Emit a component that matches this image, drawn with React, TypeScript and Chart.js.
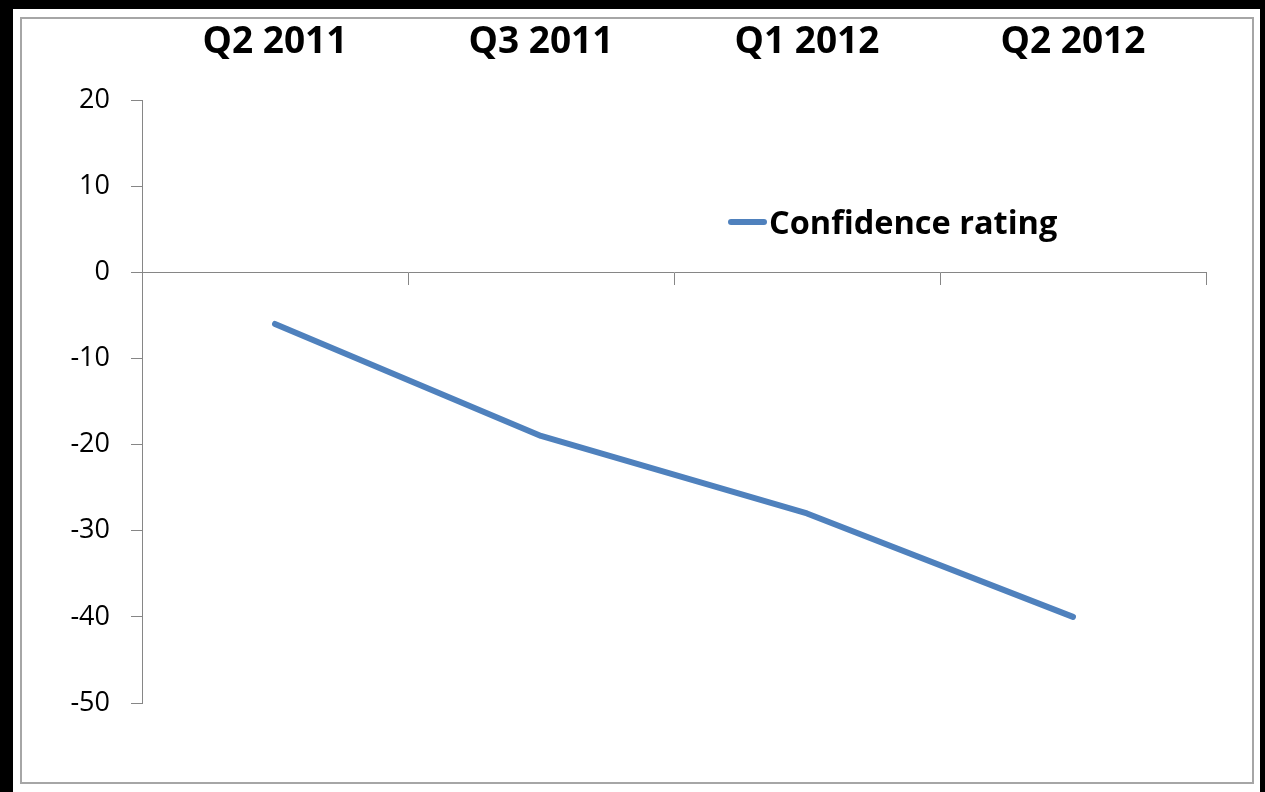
import React, { useEffect, useRef } from "react";
import { Chart, registerables } from "chart.js";

Chart.register(...registerables);

const categories = ["Q2 2011", "Q3 2011", "Q1 2012", "Q2 2012"];
const confidenceValues = [-6, -19, -28, -40];
const seriesLabel = "Confidence rating";
const yMin = -50;
const yMax = 20;
const yStep = 10;

const AXIS_GRAY = "#868686";
const LINE_BLUE = "#4f81bd";
const FONT = "'Open Sans', 'Liberation Sans', sans-serif";

const legendPlugin = {
  id: "customLegend",
  afterDraw(chart: any) {
    const ctx = chart.ctx;
    const ds = chart.data.datasets[0];
    ctx.save();
    ctx.strokeStyle = ds.borderColor;
    ctx.lineWidth = 6;
    ctx.lineCap = "round";
    ctx.beginPath();
    ctx.moveTo(731, 222);
    ctx.lineTo(764, 222);
    ctx.stroke();
    ctx.fillStyle = "#000";
    ctx.font = `bold 32.5px ${FONT}`;
    ctx.textBaseline = "alphabetic";
    ctx.textAlign = "left";
    ctx.fillText(ds.label, 769, 234);
    ctx.restore();
  },
};

export default function App() {
  const canvasRef = useRef<HTMLCanvasElement | null>(null);

  useEffect(() => {
    const canvas = canvasRef.current;
    if (!canvas) return;
    const chart = new Chart(canvas, {
      type: "line",
      data: {
        labels: categories,
        datasets: [
          {
            label: seriesLabel,
            data: confidenceValues,
            borderColor: LINE_BLUE,
            backgroundColor: LINE_BLUE,
            borderWidth: 6,
            pointRadius: 0,
            pointHoverRadius: 0,
            borderCapStyle: "round",
            borderJoinStyle: "round",
            tension: 0,
            fill: false,
            xAxisID: "x",
            yAxisID: "y",
          },
        ],
      },
      options: {
        responsive: false,
        animation: false,
        devicePixelRatio: 1,
        layout: { padding: { left: 0, top: 0, right: 59, bottom: 89 } },
        plugins: {
          legend: { display: false },
          tooltip: { enabled: false },
        },
        scales: {
          x: {
            type: "category",
            position: "top",
            offset: true,
            grid: { display: false, drawTicks: false },
            border: { display: false },
            ticks: {
              color: "#000",
              font: { family: FONT, size: 37, weight: "bold" },
              padding: 35,
              maxRotation: 0,
              autoSkip: false,
            },
            afterFit: (scale: any) => {
              scale.height = 100;
            },
          },
          x2: {
            type: "category",
            axis: "x",
            position: { y: 0 },
            offset: true,
            grid: {
              offset: true,
              drawOnChartArea: false,
              drawTicks: true,
              tickLength: 12,
              color: AXIS_GRAY,
              lineWidth: 1,
            },
            border: { display: true, color: AXIS_GRAY, width: 1 },
            ticks: { display: false },
          },
          y: {
            type: "linear",
            position: "left",
            min: yMin,
            max: yMax,
            grid: {
              drawOnChartArea: false,
              drawTicks: true,
              tickLength: 11,
              color: AXIS_GRAY,
              lineWidth: 1,
            },
            border: { display: true, color: AXIS_GRAY, width: 1 },
            ticks: {
              stepSize: yStep,
              color: "#000",
              font: { family: FONT, size: 27 },
              padding: 21,
            },
            afterFit: (scale: any) => {
              scale.width = 142;
            },
          },
        },
      },
      plugins: [legendPlugin],
    } as any);
    return () => chart.destroy();
  }, []);

  return (
    <div
      style={{
        position: "absolute",
        left: 0,
        top: 0,
        width: 1265,
        height: 792,
        background: "#fff",
        overflow: "hidden",
      }}
    >
      <div style={{ position: "absolute", left: 0, top: 0, width: 1265, height: 9, background: "#000" }} />
      <div style={{ position: "absolute", left: 0, top: 0, width: 13, height: 792, background: "#000" }} />
      <div style={{ position: "absolute", left: 1260, top: 0, width: 5, height: 792, background: "#000" }} />
      <div
        style={{
          position: "absolute",
          left: 20,
          top: 17,
          width: 1230,
          height: 763,
          border: "2px solid #a6a6a6",
        }}
      />
      <canvas
        ref={canvasRef}
        width={1265}
        height={792}
        style={{ position: "absolute", left: 0, top: 0, width: 1265, height: 792 }}
      />
    </div>
  );
}
